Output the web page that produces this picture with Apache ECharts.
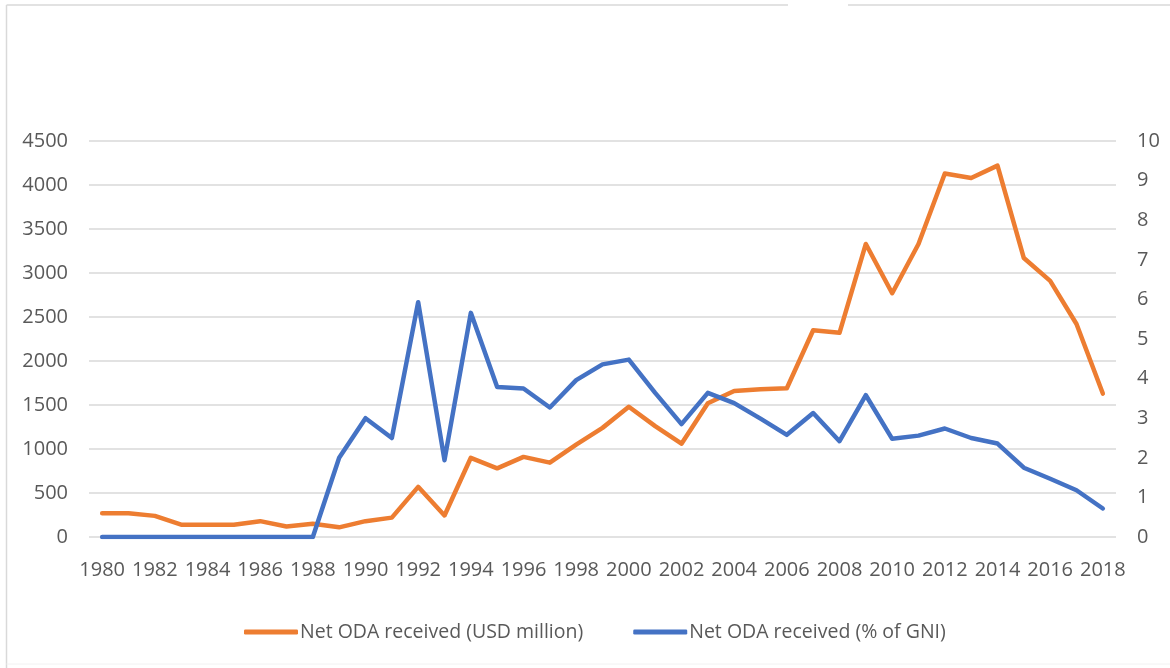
<!DOCTYPE html>
<html>
<head>
<meta charset="utf-8">
<title>Net ODA received, 1980–2018</title>
<script src="https://cdn.jsdelivr.net/npm/echarts@6/dist/echarts.min.js"></script>
<style>
  html, body { margin: 0; padding: 0; background: #ffffff; }
  #chart { width: 1170px; height: 668px; }
</style>
</head>
<body>
<div id="chart"></div>
<script>
// Years on the category axis
const years = [];
for (let y = 1980; y <= 2018; y++) years.push(String(y));

// Net ODA received, current USD million
const odaUsdMillion = [
  270, 270, 240, 140, 140, 140, 180, 120, 150, 110,
  180, 220, 570, 245, 900, 780, 910, 845, 1050, 1240,
  1480, 1260, 1060, 1520, 1660, 1680, 1690, 2350, 2320, 3330,
  2770, 3330, 4130, 4080, 4220, 3170, 2910, 2420, 1630
];

// Net ODA received as % of GNI
const odaPctGni = [
  0, 0, 0, 0, 0, 0, 0, 0, 0, 2.0,
  3.0, 2.5, 5.93, 1.94, 5.66, 3.79, 3.75, 3.27, 3.96, 4.36,
  4.48, 3.64, 2.85, 3.64, 3.38, 2.99, 2.58, 3.13, 2.42, 3.58,
  2.48, 2.56, 2.74, 2.5, 2.36, 1.75, 1.47, 1.18, 0.72
];

const seriesNames = ['Net ODA received (USD million)', 'Net ODA received (% of GNI)'];

const FONT = '"Open Sans", "Liberation Sans", sans-serif';
const TEXT = '#595959';
const GRID = '#d9d9d9';
const ORANGE = '#ED7D31';
const BLUE = '#4472C4';

const plain = v => String(v);

const chart = echarts.init(document.getElementById('chart'), null, { renderer: 'canvas' });

chart.setOption({
  animation: false,
  backgroundColor: '#ffffff',
  textStyle: { fontFamily: FONT },
  grid: { left: 89, right: 54, top: 141, bottom: 131 },
  legend: {
    data: seriesNames,
    left: 239,
    top: 617,
    icon: 'roundRect',
    itemWidth: 54,
    itemHeight: 5,
    itemGap: 50,
    textStyle: { color: TEXT, fontSize: 19.5, fontFamily: FONT, padding: [0, 0, 0, -3] }
  },
  xAxis: {
    type: 'category',
    data: years,
    boundaryGap: true,
    axisLine: { show: false },
    axisTick: { show: false },
    axisLabel: {
      interval: 1,
      color: TEXT,
      fontSize: 20,
      fontFamily: FONT,
      margin: 23
    },
    splitLine: { show: false }
  },
  yAxis: [
    {
      type: 'value',
      min: 0,
      max: 4500,
      interval: 500,
      axisLine: { show: false },
      axisTick: { show: false },
      axisLabel: { color: TEXT, fontSize: 20, fontFamily: FONT, margin: 21, formatter: plain },
      splitLine: { lineStyle: { color: GRID, width: 1.5 } }
    },
    {
      type: 'value',
      min: 0,
      max: 10,
      interval: 1,
      position: 'right',
      axisLine: { show: false },
      axisTick: { show: false },
      axisLabel: { color: TEXT, fontSize: 20, fontFamily: FONT, margin: 21, formatter: plain },
      splitLine: { show: false }
    }
  ],
  series: [
    {
      name: seriesNames[0],
      type: 'line',
      yAxisIndex: 0,
      data: odaUsdMillion,
      showSymbol: false,
      symbol: 'none',
      lineStyle: { color: ORANGE, width: 4.5, cap: 'round', join: 'round' },
      itemStyle: { color: ORANGE },
      z: 2
    },
    {
      name: seriesNames[1],
      type: 'line',
      yAxisIndex: 1,
      data: odaPctGni,
      showSymbol: false,
      symbol: 'none',
      lineStyle: { color: BLUE, width: 4.5, cap: 'round', join: 'round' },
      itemStyle: { color: BLUE },
      z: 3
    }
  ],
  graphic: [
    // chart frame: left edge and top edge (the top edge has a short break)
    { type: 'line', shape: { x1: 6.5, y1: 5, x2: 6.5, y2: 668 }, style: { stroke: GRID, lineWidth: 1.5 }, silent: true },
    { type: 'line', shape: { x1: 6.5, y1: 5, x2: 788, y2: 5 }, style: { stroke: GRID, lineWidth: 1.5 }, silent: true },
    { type: 'line', shape: { x1: 848, y1: 5, x2: 1170, y2: 5 }, style: { stroke: GRID, lineWidth: 1.5 }, silent: true },
    { type: 'line', shape: { x1: 6.5, y1: 664, x2: 1170, y2: 664 }, style: { stroke: '#f2f2f2', lineWidth: 1 }, silent: true }
  ]
});
</script>
</body>
</html>
